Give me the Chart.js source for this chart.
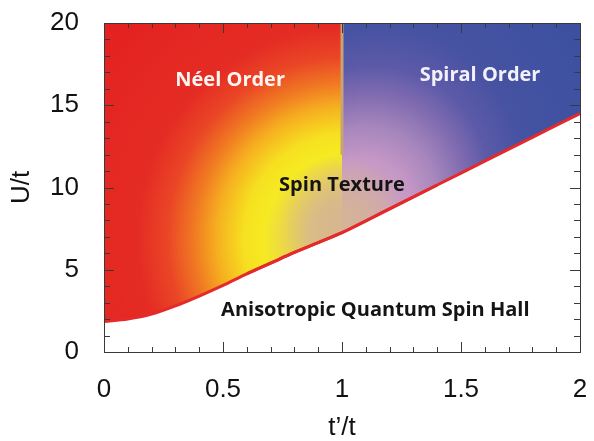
<!DOCTYPE html>
<html>
<head>
<meta charset="utf-8">
<script src="https://cdn.jsdelivr.net/npm/chart.js@4.4.1/dist/chart.umd.min.js"></script>
<style>
  html, body { margin: 0; padding: 0; background: #fff; }
  #wrap { width: 594px; height: 441px; }
</style>
</head>
<body>
<div id="wrap"><canvas id="myChart" width="594" height="441"></canvas></div>
<script>
// phase boundary U_c/t vs t'/t
var tpBoundary = [0, 0.1, 0.2, 0.3, 0.4, 0.5, 0.6, 0.7, 0.8, 0.9, 1.0, 1.2, 1.4, 1.6, 1.8, 2.0];
var uBoundary = [1.85, 2.0, 2.3, 2.8, 3.4, 4.05, 4.75, 5.4, 6.05, 6.65, 7.25, 8.7, 10.15, 11.6, 13.05, 14.5];

// Neel / spiral border at t' = t
var tpStripe = [1, 1];
var uStripe = [12, 20];

var xTicks = [0, 0.5, 1, 1.5, 2];
var yTicks = [0, 5, 10, 15, 20];

var phaseNames = ["Néel Order", "Spiral Order", "Spin Texture", "Anisotropic Quantum Spin Hall"];
var phaseT = [0.53, 1.58, 1.0, 1.14];
var phaseU = [16.5, 16.8, 10.15, 2.55];
var phaseColors = ["#fff4f0", "#f4f0fa", "#141414", "#141414"];

const pts = (lo, hi) => tpBoundary
    .map((t, i) => ({x: t, y: uBoundary[i]}))
    .filter(p => p.x >= lo && p.x <= hi);

// gradient from a focal point (f) out to a circle round (c) of radius r, both in data units / px
const radial = (chart, fx, fy, cx, cy, r, stops) => {
    const {ctx, chartArea, scales} = chart;
    if (!chartArea) return null;
    const x = scales.x, y = scales.y;
    const g = ctx.createRadialGradient(x.getPixelForValue(fx), y.getPixelForValue(fy), 0,
        x.getPixelForValue(cx), y.getPixelForValue(cy), r);
    stops.forEach(s => g.addColorStop(s[0], s[1]));
    return g;
};

const leftStops = [[0, "#d4b494"], [0.12, "#dcc07c"], [0.2, "#ecd848"], [0.26, "#f6ea22"], [0.32, "#f6e020"],
    [0.4, "#f6b020"], [0.47, "#f07a22"], [0.55, "#ea4626"], [0.64, "#e42c24"], [1, "#e42020"]];
const rightStops = [[0, "#d4b09e"], [0.12, "#cea4b6"], [0.22, "#c698c6"], [0.32, "#a686bc"], [0.42, "#7e6ab0"],
    [0.5, "#5c5aa8"], [0.62, "#4652a2"], [1, "#3a50a0"]];
const blendStops = [[0, "rgba(214,182,146,0.75)"], [0.5, "rgba(214,182,146,0.45)"], [1, "rgba(214,182,146,0)"]];

const frameTicks = {
    id: "frameTicks",
    afterDatasetsDraw(chart) {
        const {ctx, chartArea: a, scales} = chart;
        ctx.save();
        ctx.strokeStyle = "#3a3a3a";
        ctx.lineWidth = 1;
        ctx.beginPath();
        for (let i = 0; i <= 20; i++) {
            const x = Math.round(scales.x.getPixelForValue(i / 10)) + 0.5;
            const len = i % 5 === 0 ? 10 : 5;
            ctx.moveTo(x, a.bottom); ctx.lineTo(x, a.bottom - len);
            ctx.moveTo(x, a.top); ctx.lineTo(x, a.top + len);
        }
        for (let i = 0; i <= 20; i++) {
            const y = Math.round(scales.y.getPixelForValue(i)) + 0.5;
            const len = i % 5 === 0 ? 10 : 6;
            ctx.moveTo(a.left, y); ctx.lineTo(a.left + len, y);
            ctx.moveTo(a.right, y); ctx.lineTo(a.right - len, y);
        }
        ctx.stroke();
        ctx.strokeRect(Math.round(a.left) + 0.5, Math.round(a.top) + 0.5, Math.round(a.right - a.left), Math.round(a.bottom - a.top));

        ctx.font = "bold 20px 'Open Sans'";
        ctx.textAlign = "center";
        ctx.textBaseline = "middle";
        phaseNames.forEach((name, i) => {
            ctx.fillStyle = phaseColors[i];
            ctx.fillText(name, scales.x.getPixelForValue(phaseT[i]), scales.y.getPixelForValue(phaseU[i]));
        });
        ctx.restore();
    }
};

const tickFont = {family: "'Liberation Sans', Arial", size: 26};

new Chart("myChart", {
    type: "line",
    data: {
        datasets: [{
            data: tpStripe.map((t, i) => ({x: t, y: uStripe[i]})),
            borderColor: "#c8a474",
            borderWidth: 3,
            pointRadius: 0,
            fill: false
        }, {
            data: pts(0.6, 1.4),
            borderColor: "#e42a2a",
            borderWidth: 3,
            pointRadius: 0,
            cubicInterpolationMode: "monotone",
            fill: "end",
            backgroundColor: (c) => radial(c.chart, 1.0, 8.3, 1.0, 8.3, 60, blendStops)
        }, {
            data: pts(0, 1),
            borderColor: "#e42a2a",
            borderWidth: 3,
            pointRadius: 0,
            cubicInterpolationMode: "monotone",
            fill: "end",
            backgroundColor: (c) => radial(c.chart, 1.03, 6.9, 1.03, 6.9, 330, leftStops)
        }, {
            data: pts(1, 2),
            borderColor: "#e42a2a",
            borderWidth: 3,
            pointRadius: 0,
            cubicInterpolationMode: "monotone",
            fill: "end",
            backgroundColor: (c) => radial(c.chart, 1.03, 7.2, 1.24, 13.6, 230, rightStops)
        }]
    },
    options: {
        responsive: false,
        animation: false,
        layout: {padding: {top: 23, right: 14, left: 0, bottom: 0}},
        plugins: {
            legend: {display: false},
            tooltip: {enabled: false},
            filler: {drawTime: "beforeDatasetsDraw"}
        },
        scales: {
            x: {
                type: "linear",
                min: 0,
                max: 2,
                afterBuildTicks: (s) => { s.ticks = xTicks.map(v => ({value: v})); },
                afterFit: (s) => { s.height = 89; s.paddingLeft = 0; s.paddingRight = 0; },
                grid: {display: false, drawTicks: false},
                border: {display: false},
                ticks: {font: tickFont, color: "#111", padding: 22, maxRotation: 0, callback: (v) => String(v)},
                title: {display: true, text: "t’/t", font: {family: "'Liberation Sans', Arial", size: 26, lineHeight: 1}, color: "#111", padding: {top: 0, bottom: 0}}
            },
            y: {
                type: "linear",
                min: 0,
                max: 20,
                afterBuildTicks: (s) => { s.ticks = yTicks.map(v => ({value: v})); },
                afterFit: (s) => { s.width = 104; s.paddingTop = 0; s.paddingBottom = 0; },
                grid: {display: false, drawTicks: false},
                border: {display: false},
                ticks: {font: tickFont, color: "#111", padding: 25, callback: (v) => String(v)},
                title: {display: true, text: "U/t", font: {family: "'Liberation Sans', Arial", size: 26, lineHeight: 1}, color: "#111", padding: {top: 9, bottom: 0}}
            }
        }
    },
    plugins: [frameTicks]
});
</script>
</body>
</html>
